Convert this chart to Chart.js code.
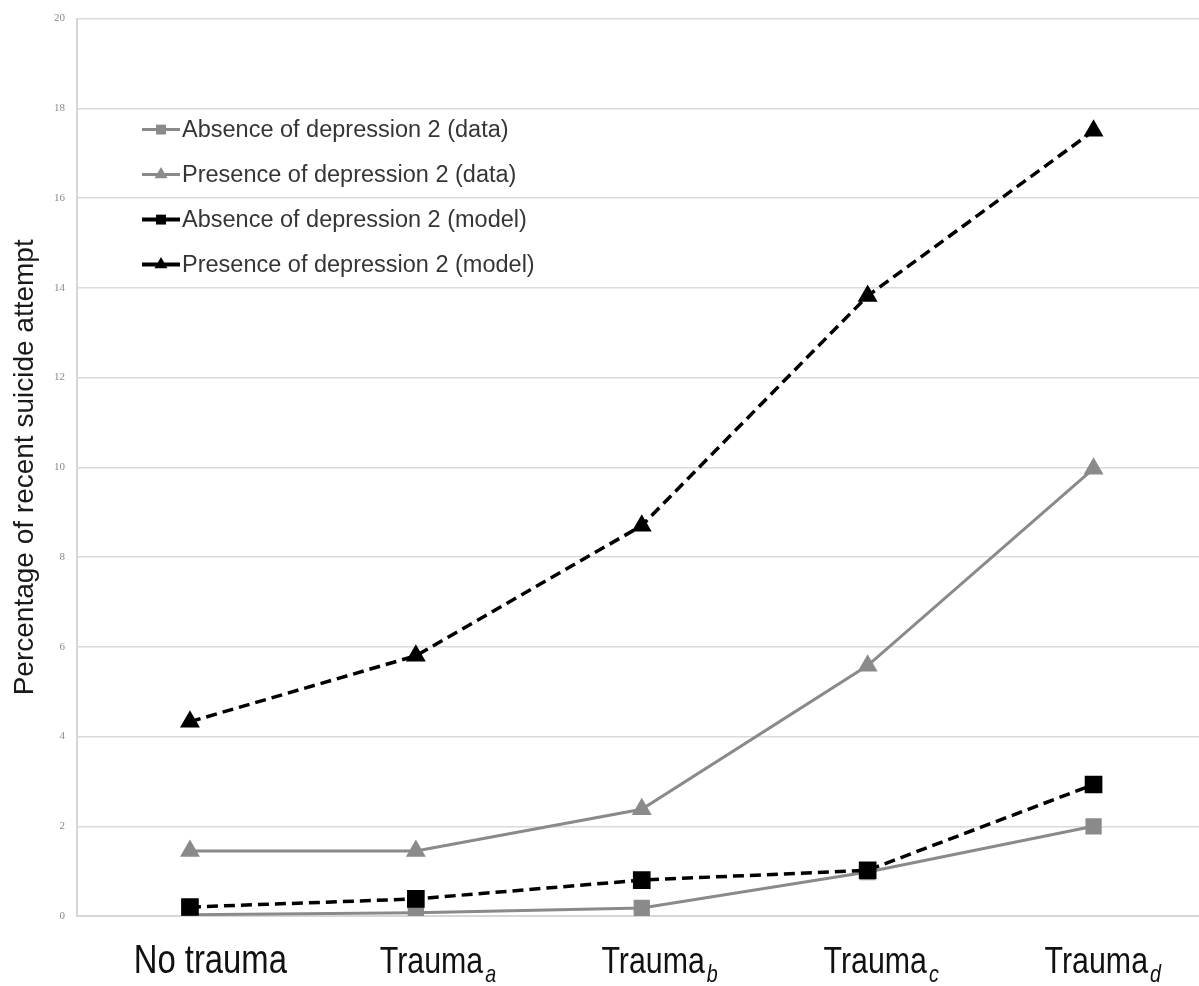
<!DOCTYPE html>
<html>
<head>
<meta charset="utf-8">
<script src="https://cdn.jsdelivr.net/npm/chart.js@4.4.1/dist/chart.umd.min.js"></script>
<style>
  html, body { margin: 0; padding: 0; background: #ffffff; overflow: hidden; }
  #wrap { width: 1219px; height: 986px; }
</style>
</head>
<body>
<div id="wrap"><canvas id="chart" width="1219" height="986"></canvas></div>
<script>
// Categories (x axis): main label and subscript letter
const categories = ['No trauma', 'Trauma', 'Trauma', 'Trauma', 'Trauma'];
const categorySubscripts = ['', 'a', 'b', 'c', 'd'];

// Percentage of recent suicide attempt per category
const absenceData  = [0.03, 0.07, 0.18, 0.98, 2.0];
const presenceData = [1.45, 1.45, 2.38, 5.58, 9.97];
const absenceModel = [0.2, 0.38, 0.8, 1.02, 2.93];
const presenceModel = [4.33, 5.8, 8.7, 13.82, 17.5];

// Y axis range and ticks
const yMin = 0;
const yMax = 20;
const yStep = 2;

const seriesNames = [
  'Absence of depression 2 (data)',
  'Presence of depression 2 (data)',
  'Absence of depression 2 (model)',
  'Presence of depression 2 (model)'
];

const GRAY = '#8a8a8a';
const BLACK = '#000000';

// Legend drawn inside the plot area, upper left
const insideLegend = {
  id: 'insideLegend',
  afterDatasetsDraw(chart) {
    const { ctx, chartArea } = chart;
    const x0 = chartArea.left + 65;
    const x1 = chartArea.left + 103;
    const mx = chartArea.left + 84;
    const tx = chartArea.left + 105;
    ctx.save();
    chart.data.datasets.forEach((ds, i) => {
      const y = chartArea.top + 111 + 45 * i;
      ctx.beginPath();
      ctx.strokeStyle = ds.borderColor;
      ctx.lineWidth = ds.borderDash && ds.borderDash.length ? 4 : 3;
      ctx.setLineDash([]);
      ctx.moveTo(x0, y);
      ctx.lineTo(x1, y);
      ctx.stroke();
      ctx.fillStyle = ds.pointBackgroundColor;
      ctx.strokeStyle = ds.pointBorderColor;
      Chart.helpers.drawPoint(ctx, {
        pointStyle: ds.pointStyle,
        radius: ds.pointStyle === 'rect' ? 7 : 7.5,
        borderWidth: 0
      }, mx, y);
      ctx.fillStyle = '#353535';
      ctx.font = '23.5px "Liberation Sans", Arial, sans-serif';
      ctx.textAlign = 'left';
      ctx.textBaseline = 'middle';
      ctx.fillText(ds.label, tx, y + 1);
    });
    ctx.restore();
  }
};

// Category labels (condensed) with italic subscripts; the label row is
// spaced slightly tighter than the category bands
const categoryLabels = {
  id: 'categoryLabels',
  afterDraw(chart) {
    const { ctx } = chart;
    const xs = chart.scales.x;
    const baseline = xs.top + 57;
    const narrow = 0.82;
    ctx.save();
    ctx.fillStyle = '#111111';
    ctx.textBaseline = 'alphabetic';
    ctx.textAlign = 'left';
    categories.forEach((name, i) => {
      const sub = categorySubscripts[i];
      const cx = xs.getPixelForValue(i) * 0.981 + (sub ? 30 : 24);
      const mainFont = (sub ? '37px' : '40px') + ' "Liberation Sans", Arial, sans-serif';
      const subFont = 'italic 24px "Liberation Sans", Arial, sans-serif';
      ctx.font = mainFont;
      const wMain = ctx.measureText(name).width * narrow;
      ctx.font = subFont;
      const wSub = sub ? ctx.measureText(sub).width * narrow + 2 : 0;
      const start = cx - (wMain + wSub) / 2;
      ctx.save();
      ctx.translate(start, baseline);
      ctx.scale(narrow, 1);
      ctx.font = mainFont;
      ctx.fillText(name, 0, 0);
      if (sub) {
        ctx.font = subFont;
        ctx.fillText(sub, (wMain + 2) / narrow, 9);
      }
      ctx.restore();
    });
    ctx.restore();
  }
};

const ctx = document.getElementById('chart').getContext('2d');
new Chart(ctx, {
  type: 'line',
  data: {
    labels: categories.map((c, i) => c + categorySubscripts[i]),
    datasets: [
      {
        label: seriesNames[0],
        data: absenceData,
        borderColor: GRAY,
        backgroundColor: GRAY,
        pointBackgroundColor: GRAY,
        pointBorderColor: GRAY,
        borderWidth: 3,
        pointStyle: 'rect',
        pointRadius: 11.5,
        pointBorderWidth: 0,
        order: 2
      },
      {
        label: seriesNames[1],
        data: presenceData,
        borderColor: GRAY,
        backgroundColor: GRAY,
        pointBackgroundColor: GRAY,
        pointBorderColor: GRAY,
        borderWidth: 3,
        pointStyle: 'triangle',
        pointRadius: 11.5,
        pointBorderWidth: 0,
        order: 2
      },
      {
        label: seriesNames[2],
        data: absenceModel,
        borderColor: BLACK,
        backgroundColor: BLACK,
        pointBackgroundColor: BLACK,
        pointBorderColor: BLACK,
        borderWidth: 3.5,
        borderDash: [11, 6],
        pointStyle: 'rect',
        pointRadius: 12.5,
        pointBorderWidth: 0,
        order: 1
      },
      {
        label: seriesNames[3],
        data: presenceModel,
        borderColor: BLACK,
        backgroundColor: BLACK,
        pointBackgroundColor: BLACK,
        pointBorderColor: BLACK,
        borderWidth: 3.5,
        borderDash: [11, 6],
        pointStyle: 'triangle',
        pointRadius: 11.5,
        pointBorderWidth: 0,
        order: 1
      }
    ]
  },
  options: {
    responsive: false,
    animation: false,
    layout: { padding: { top: 16, right: 0, bottom: 0, left: 0 } },
    plugins: {
      legend: { display: false },
      tooltip: { enabled: false }
    },
    scales: {
      x: {
        type: 'category',
        offset: true,
        grid: { display: false, drawTicks: false },
        border: { display: true, color: '#d6d6d6', width: 2 },
        ticks: { display: false },
        afterFit(scale) { scale.height = 70; }
      },
      y: {
        min: yMin,
        max: yMax,
        ticks: {
          stepSize: yStep,
          padding: 12,
          color: '#8a8a8a',
          font: { family: '"Liberation Serif", "DejaVu Serif", serif', size: 11 }
        },
        grid: { color: '#dadada', lineWidth: 1.5, drawTicks: false },
        border: { display: true, color: '#d6d6d6', width: 2 },
        title: {
          display: true,
          text: 'Percentage of recent suicide attempt',
          color: '#1a1a1a',
          font: { family: '"Liberation Sans", Arial, sans-serif', size: 28, weight: 'normal' },
          padding: { top: 8, bottom: 0 }
        },
        afterFit(scale) { scale.width = 77; }
      }
    }
  },
  plugins: [insideLegend, categoryLabels]
});
</script>
</body>
</html>
